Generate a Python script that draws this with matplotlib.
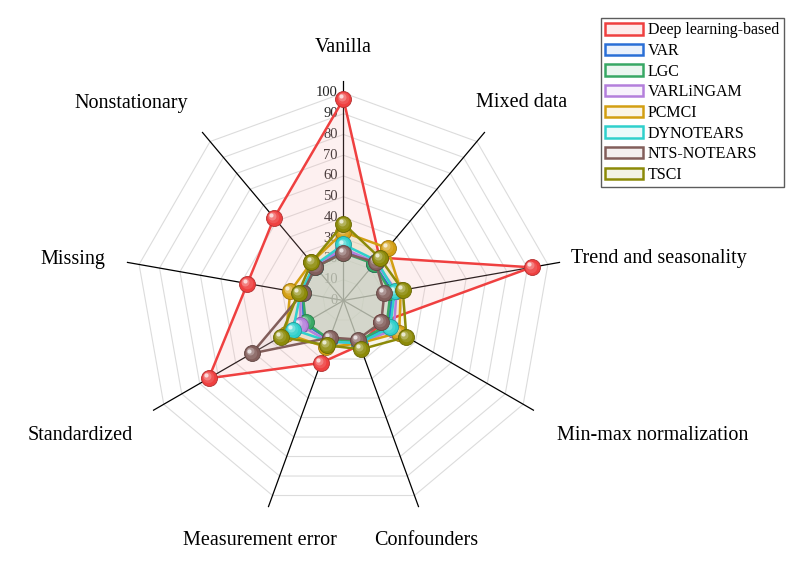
import numpy as np
import matplotlib
matplotlib.use("Agg")
import matplotlib.pyplot as plt
import matplotlib.colors as mcolors
from matplotlib.patches import Patch
from matplotlib.transforms import offset_copy

plt.rcParams['font.family'] = ['Liberation Serif', 'DejaVu Serif']

# axes of the radar, clockwise from the top
categories = ["Vanilla", "Mixed data", "Trend and seasonality", "Min-max normalization",
              "Confounders", "Measurement error", "Standardized", "Missing", "Nonstationary"]

methods = ["Deep learning-based", "VAR", "LGC", "VARLiNGAM", "PCMCI",
           "DYNOTEARS", "NTS-NOTEARS", "TSCI"]

deep_learning = [97, 27, 92, 21, 23, 32, 75, 47, 52]
var_vals = [24, 23, 24, 25, 21, 20, 22, 20, 21]
lgc_vals = [23, 23, 23, 24, 21, 20, 21, 20, 21]
varlingam_vals = [25, 24, 26, 28, 22, 21, 24, 21, 22]
pcmci_vals = [33, 33, 28, 31, 22, 24, 32, 26, 24]
dynotears_vals = [27, 25, 25, 26, 22, 21, 28, 21, 22]
nts_notears_vals = [23, 24, 20, 21, 20, 19, 51, 20, 21]
tsci_vals = [37, 27, 29, 35, 25, 23, 35, 22, 24]

series = [deep_learning, var_vals, lgc_vals, varlingam_vals, pcmci_vals,
          dynotears_vals, nts_notears_vals, tsci_vals]
colors = ["#ef4040", "#2a6fd6", "#38a865", "#b47fdc", "#d39f12",
          "#2fd0cc", "#825e5b", "#8c8a08"]

ticks = [0, 10, 20, 30, 40, 50, 60, 70, 80, 90, 100]

# label positions (angle in deg clockwise from top, radius in data units)
label_pos = [(0, 122), (42, 128.5), (82.5, 153.5), (113.6, 162.5), (160.9, 122.4),
             (199.1, 122.4), (242.9, 142.5), (278.7, 132), (312.9, 139.5)]

n = len(categories)
angles = np.deg2rad(np.arange(n) * 360.0 / n)
closed = np.append(angles, angles[0])


def lighten(color, mix):
    base = mcolors.to_rgb(color)
    return tuple(b + (1 - b) * mix for b in base)


fig = plt.figure(figsize=(7.93, 5.63), dpi=100)
ax = fig.add_axes([0.1557, 0.0755, 0.5549, 0.7815], projection='polar')
ax.set_theta_zero_location('N')
ax.set_theta_direction(-1)
ax.set_ylim(0, 106)
ax.set_xticks([])
ax.set_yticks([])
ax.grid(False)
ax.spines['polar'].set_visible(False)

# polygon grid rings
for r in ticks[1:]:
    ax.plot(closed, [r] * (n + 1), color="#dcdcdc", lw=0.8, zorder=1)

# spokes
for a in angles:
    ax.plot([a, a], [0, 106], color="black", lw=0.9, zorder=2)

# radial tick labels on the top spoke
lab_tr = offset_copy(ax.transData, fig=fig, x=-4, y=0, units='points')
for t in ticks:
    ax.text(0, t, str(t), transform=lab_tr, ha='right', va='center',
            fontsize=10.5, color="#222222", zorder=2)

# category labels
for name, (a, r) in zip(categories, label_pos):
    ax.text(np.deg2rad(a), r, name, ha='center', va='center', fontsize=14.5)


def sphere(ax, theta, r, color, z):
    # layered circles to fake a shaded ball
    dark = tuple(c * 0.75 for c in mcolors.to_rgb(color))
    ax.plot(theta, r, 'o', ms=11.5, color=color, mec=dark, mew=0.6,
            zorder=z, clip_on=False)
    layers = [(8.3, -0.6, 0.15), (5.7, -1.4, 0.4), (3.0, -2.1, 0.92)]
    for ms, off, mix in layers:
        tr = offset_copy(ax.transData, fig=fig, x=off, y=-off, units='points')
        ax.plot(theta, r, 'o', ms=ms, color=lighten(color, mix), mew=0,
                transform=tr, zorder=z + 0.1, clip_on=False, alpha=0.8)


for i, (vals, col) in enumerate(zip(series, colors)):
    v = np.append(vals, vals[0])
    z = 5 + i
    ax.fill(closed, v, color=lighten(col, 0.6), alpha=0.19, lw=0, zorder=3)
    ax.plot(closed, v, color=col, lw=1.8, zorder=z, clip_on=False)
    sphere(ax, angles, vals, col, z + 0.2)

handles = [Patch(facecolor=lighten(c, 0.9), edgecolor=c, lw=1.8, label=m)
           for m, c in zip(methods, colors)]
leg = fig.legend(handles=handles, loc='upper left',
                 bbox_to_anchor=(601 / 793, 1 - 18 / 563), fontsize=11.5,
                 frameon=True, fancybox=False, edgecolor="#333333",
                 handlelength=2.35, handleheight=0.72, labelspacing=0.29,
                 handletextpad=0.3, borderpad=0.28, borderaxespad=0)
leg.get_frame().set_linewidth(1.0)

fig.savefig("out.png", dpi=100)
